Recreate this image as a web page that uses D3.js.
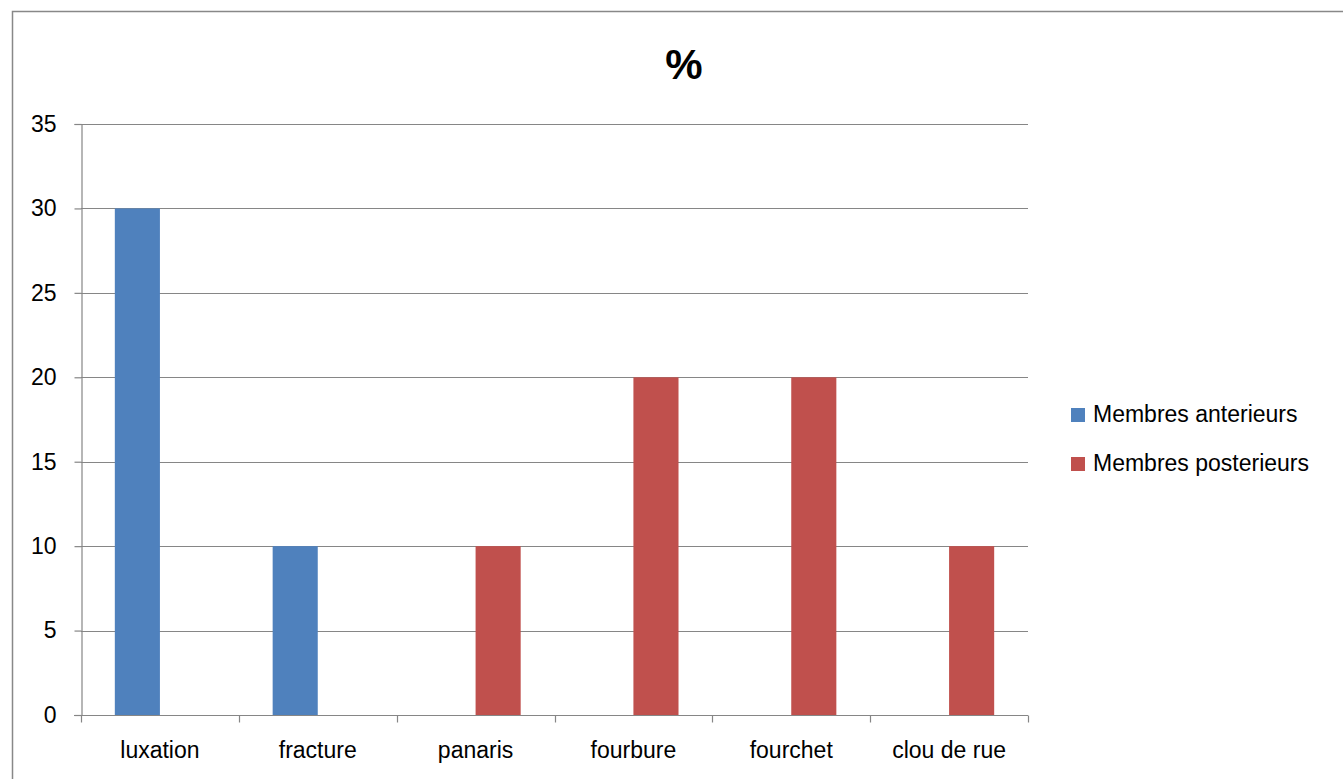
<!DOCTYPE html>
<html>
<head>
<meta charset="utf-8">
<script src="https://cdn.jsdelivr.net/npm/d3@7"></script>
<style>
  html, body { margin: 0; padding: 0; background: #fff; }
  svg { display: block; font-family: "Liberation Sans", Arial, sans-serif; }
</style>
</head>
<body>
<svg id="chart" width="1343" height="779"></svg>
<script>
// Categories and series
const categories = ["luxation", "fracture", "panaris", "fourbure", "fourchet", "clou de rue"];
const seriesNames = ["Membres anterieurs", "Membres posterieurs"];
const anterieurs = [30, 10, null, null, null, null];
const posterieurs = [null, null, 10, 20, 20, 10];
const yTicks = [0, 5, 10, 15, 20, 25, 30, 35];
const title = "%";

const colors = ["#4F81BD", "#C0504D"];
const seriesValues = [anterieurs, posterieurs];
const fontSize = 23;

const svg = d3.select("#chart");

// Outer chart frame
svg.append("rect")
  .attr("x", 12.5).attr("y", 11.5)
  .attr("width", 1400).attr("height", 800)
  .attr("fill", "none").attr("stroke", "#888").attr("stroke-width", 1.5);

const plot = { left: 81, right: 1028, top: 124, bottom: 715 };

const x0 = d3.scaleBand().domain(categories).range([plot.left, plot.right]).padding(0);
// Gap width 150%: two bars plus 1.5 bar widths of gap per category
const bw = x0.bandwidth() / 3.5;
const x1 = d3.scaleBand().domain(seriesNames)
  .range([0.75 * bw, 2.75 * bw]).padding(0);
const y = d3.scaleLinear().domain([0, 35]).range([plot.bottom, plot.top]);

// Horizontal gridlines
svg.append("g").selectAll("line")
  .data(yTicks.filter(t => t > 0))
  .join("line")
  .attr("x1", plot.left).attr("x2", plot.right)
  .attr("y1", d => Math.round(y(d)) + 0.5).attr("y2", d => Math.round(y(d)) + 0.5)
  .attr("stroke", "#868686").attr("stroke-width", 1.2);

// Bars
const barData = [];
categories.forEach((c, i) => {
  seriesNames.forEach((s, j) => {
    const v = seriesValues[j][i];
    if (v != null) barData.push({ c, s, v, j });
  });
});
svg.append("g").selectAll("rect")
  .data(barData)
  .join("rect")
  .attr("x", d => x0(d.c) + x1(d.s))
  .attr("width", x1.bandwidth())
  .attr("y", d => y(d.v))
  .attr("height", d => y(0) - y(d.v))
  .attr("fill", d => colors[d.j]);

// Y axis
const yAxis = svg.append("g")
  .attr("transform", `translate(${plot.left + 0.5},0)`)
  .call(d3.axisLeft(y).tickValues(yTicks).tickSize(7).tickPadding(18).tickFormat(d3.format("d")));
yAxis.select(".domain").attr("stroke", "#868686").attr("stroke-width", 1.2);
yAxis.selectAll(".tick line").attr("stroke", "#868686").attr("stroke-width", 1.2);
yAxis.selectAll(".tick text").attr("font-size", fontSize).attr("fill", "#000")
  .attr("font-family", "Liberation Sans, Arial, sans-serif");

// X axis: ticks on category boundaries
const xAxisG = svg.append("g").attr("transform", `translate(0,${plot.bottom + 0.5})`);
xAxisG.append("line")
  .attr("x1", plot.left - 7).attr("x2", plot.right)
  .attr("stroke", "#868686").attr("stroke-width", 1.2);
const boundaries = categories.map(c => x0(c)).concat([plot.right]);
xAxisG.selectAll("line.tk")
  .data(boundaries)
  .join("line").attr("class", "tk")
  .attr("x1", d => Math.round(d) + 0.5).attr("x2", d => Math.round(d) + 0.5)
  .attr("y1", 0).attr("y2", 7)
  .attr("stroke", "#868686").attr("stroke-width", 1.2);
xAxisG.selectAll("text")
  .data(categories)
  .join("text")
  .attr("x", d => x0(d) + x0.bandwidth() / 2)
  .attr("y", 42)
  .attr("text-anchor", "middle")
  .attr("font-size", fontSize)
  .attr("fill", "#000")
  .text(d => d);

// Title
svg.append("text")
  .attr("x", 684).attr("y", 79)
  .attr("text-anchor", "middle")
  .attr("font-size", 42).attr("font-weight", "bold")
  .attr("fill", "#000")
  .text(title);

// Legend
const legend = svg.append("g").attr("transform", "translate(1071,408)");
const items = legend.selectAll("g").data(seriesNames).join("g")
  .attr("transform", (d, i) => `translate(0,${i * 49})`);
items.append("rect").attr("width", 14).attr("height", 14)
  .attr("fill", (d, i) => colors[i]);
items.append("text").attr("x", 22).attr("y", 14)
  .attr("font-size", fontSize).attr("fill", "#000")
  .text(d => d);
</script>
</body>
</html>
